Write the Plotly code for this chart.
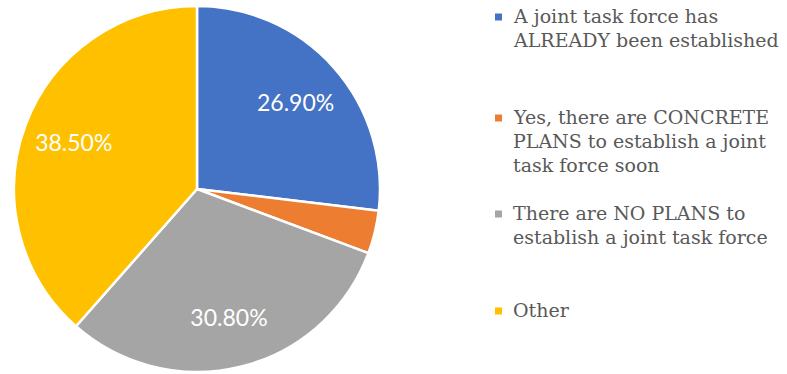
import plotly.graph_objects as go

# Survey responses on joint task forces
categories = [
    "A joint task force has ALREADY been established",
    "Yes, there are CONCRETE PLANS to establish a joint task force soon",
    "There are NO PLANS to establish a joint task force",
    "Other",
]
legend_lines = [
    ["A joint task force has", "ALREADY been established"],
    ["Yes, there are CONCRETE", "PLANS to establish a joint", "task force soon"],
    ["There are NO PLANS to", "establish a joint task force"],
    ["Other"],
]
values = [26.9, 3.8, 30.8, 38.5]
show_label = [True, False, True, True]
colors = ["#4472C4", "#ED7D31", "#A5A5A5", "#FFC000"]

W, H = 787, 374
pie_domain = dict(x=[14 / W, 380 / W], y=[1 - 372 / H, 1 - 6 / H])

texttemplates = ["%{value:.2f}%" if s else "" for s in show_label]

fig = go.Figure()

# Filled slices
fig.add_trace(
    go.Pie(
        labels=categories,
        values=values,
        sort=False,
        direction="clockwise",
        rotation=0,
        marker=dict(colors=colors, line=dict(color="white", width=2.5)),
        textinfo="none",
        domain=pie_domain,
        showlegend=False,
        hoverinfo="label+percent",
    )
)

# Transparent ring on top that carries the percentage labels toward the rim
fig.add_trace(
    go.Pie(
        labels=categories,
        values=values,
        sort=False,
        direction="clockwise",
        rotation=0,
        hole=0.44,
        marker=dict(colors=["rgba(0,0,0,0)"] * len(values), line=dict(width=0)),
        texttemplate=texttemplates,
        textposition="inside",
        insidetextorientation="horizontal",
        textfont=dict(family="Lato", size=23, color="white"),
        domain=pie_domain,
        showlegend=False,
        hoverinfo="skip",
    )
)

# Hand-placed legend to the right of the pie
first_line_y = [16, 117, 213, 310]  # px from top, centre of each entry's first line
line_step = 24
annotations = []
shapes = []
for lines, color, y0 in zip(legend_lines, colors, first_line_y):
    for i, line in enumerate(lines):
        yc = y0 + i * line_step
        annotations.append(
            dict(
                x=511 / W, y=1 - yc / H, xref="paper", yref="paper",
                xanchor="left", yanchor="middle", align="left",
                text=line, showarrow=False,
                font=dict(family="DejaVu Serif", size=19, color="#595959"),
            )
        )
    shapes.append(
        dict(
            type="rect", xref="paper", yref="paper",
            x0=495 / W, x1=502 / W, y0=1 - (y0 + 4.5) / H, y1=1 - (y0 - 2.5) / H,
            fillcolor=color, line=dict(width=0),
        )
    )

fig.update_layout(
    width=W, height=H,
    margin=dict(l=0, r=0, t=0, b=0),
    paper_bgcolor="white", plot_bgcolor="white",
    annotations=annotations, shapes=shapes,
)

fig.write_html("out.html")
